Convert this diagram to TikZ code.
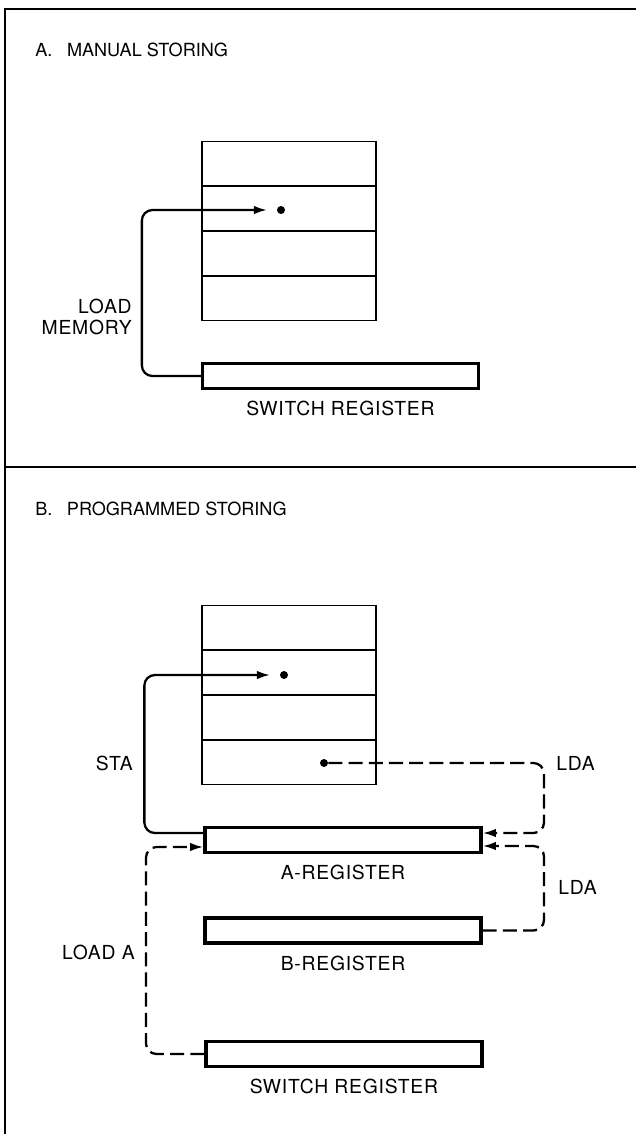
\documentclass[tikz,border=0pt]{standalone}
\usepackage{fontspec}
\setmainfont{TeX Gyre Heros}
\newfontfamily\regfont{TeX Gyre Heros}[LetterSpace=4]
\usetikzlibrary{arrows.meta, positioning}

\begin{document}
\begin{tikzpicture}[x=0.02cm, y=-0.02cm, >={Latex[length=7.5pt, width=4.8pt]},
    frame/.style={line width=1.5pt},
    cell/.style={draw, line width=1.1pt, minimum width=3.48cm, minimum height=0.88cm, inner sep=0pt},
    reg/.style={draw, line width=1.9pt, minimum width=5.52cm, minimum height=0.5cm, inner sep=0pt},
    spot/.style={circle, fill, inner sep=0pt, minimum size=0.16cm},
    flow/.style={line width=1.3pt, rounded corners=6pt},
    dflow/.style={flow, dash pattern=on 8pt off 3.5pt},
    title/.style={anchor=base west, inner sep=0pt, font=\fontsize{10.3}{12}\selectfont},
    lbl/.style={inner sep=0pt, font=\regfont\fontsize{11}{13}\selectfont}]
    \useasboundingbox (0,0) rectangle (636,1134);
    % Frame
    \draw[frame] (5,1134) -- (5,9) -- (636,9);
    \draw[frame] (5,467) -- (636,467);
    % A. Manual storing
    \node[title] (titleA) at (35,56) {A.\hspace{0.8em}MANUAL STORING};
    \foreach \i in {1,...,4}
        \node[cell] (memA\i) at (289,118.5+45*\i) {};
    \node[spot] (dotA) at (281,210) {};
    \node[reg] (swA) at (340.5,376) {};
    \node[lbl, below=0.22cm of swA] (swAlbl) {SWITCH REGISTER};
    \draw[flow, ->, shorten >=0.19cm] (swA.west) -- ++(-59,0) |- (dotA);
    \node[lbl, anchor=east, align=right] (loadmem) at (132,317) {LOAD\\[-1.5pt]MEMORY};
    % B. Programmed storing
    \node[title] (titleB) at (35,515) {B.\hspace{0.8em}PROGRAMMED STORING};
    \foreach \i in {1,...,4}
        \node[cell] (memB\i) at (289,582.5+45*\i) {};
    \node[spot] (dotB1) at (284,675) {};
    \node[spot] (dotB2) at (324,763) {};
    % Registers
    \node[reg] (regA) at (343,840) {};
    \node[lbl, below=0.22cm of regA] (regAlbl) {A-REGISTER};
    \node[reg] (regB) at (343,930.5) {};
    \node[lbl, below=0.22cm of regB] (regBlbl) {B-REGISTER};
    \node[reg] (swB) at (344,1054) {};
    \node[lbl, below=0.22cm of swB] (swBlbl) {SWITCH REGISTER};
    \coordinate (lbus) at (146,800);
    \coordinate (rbus) at (544,800);
    % STA (solid)
    \draw[flow, ->, shorten >=0.19cm] ([yshift=0.14cm]regA.west) -- ++(-59,0) |- (dotB1);
    \node[lbl, anchor=east] (sta) at (133,763) {STA};
    % LDA from memory
    \draw[dflow, ->] (dotB2) -- (dotB2 -| rbus) |- ([yshift=0.14cm]regA.east);
    \node[lbl, anchor=west] (lda1) at (556,763) {LDA};
    % LDA from B-register
    \draw[dflow, ->] (regB.east) -- (regB.east -| rbus) |- ([yshift=-0.12cm]regA.east);
    \node[lbl, anchor=west] (lda2) at (558,887) {LDA};
    % LOAD A from switches
    \draw[dflow, ->] (swB.west) -- (swB.west -| lbus) |- ([yshift=-0.14cm]regA.west);
    \node[lbl, anchor=east] (loada) at (135,952) {LOAD A};
\end{tikzpicture}
\end{document}
